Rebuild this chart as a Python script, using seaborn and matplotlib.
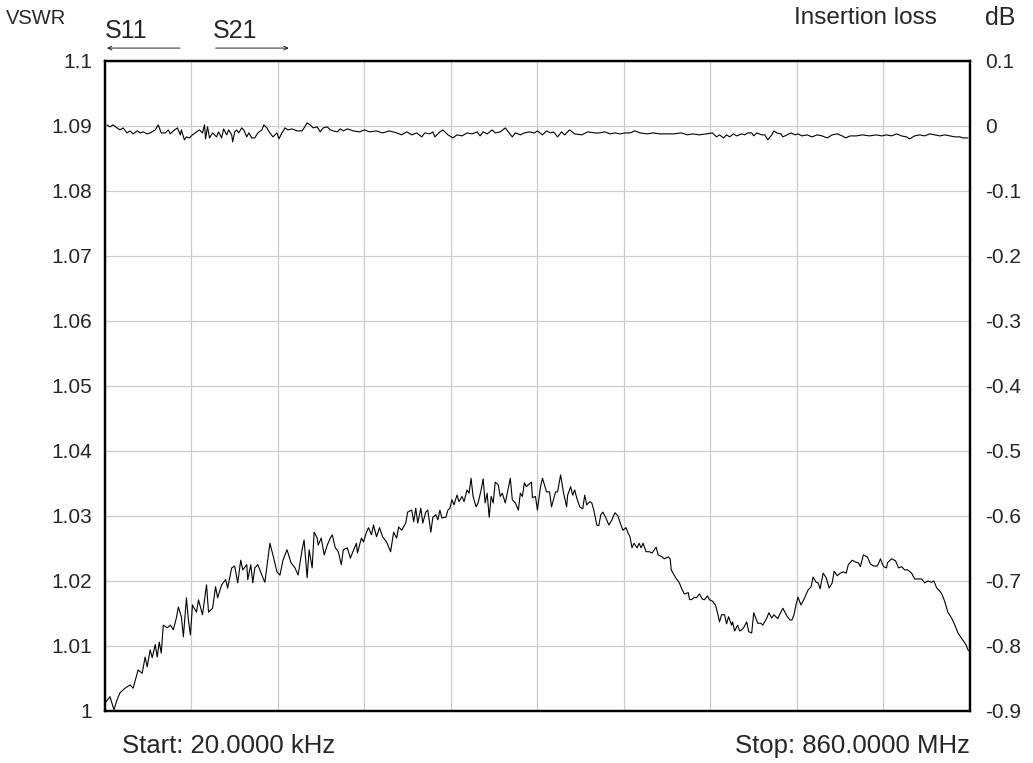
import numpy as np
import pandas as pd
import matplotlib
matplotlib.use("Agg")
import matplotlib.pyplot as plt
import seaborn as sns

# S11 trace (VSWR), frequency in MHz
vswr_freq = [0.02, 5, 9, 12, 15, 20, 25, 28, 33, 37, 40, 42, 45, 47, 50, 52, 54, 56, 58, 62,
             65, 68, 71, 73, 76, 78, 81, 83, 85, 87, 91, 93, 97, 101, 103, 107, 110, 112, 116, 120,
             122, 126, 129, 132, 135, 137, 141, 142, 145, 147, 149, 152, 156, 159, 164, 167, 171, 174, 177, 181,
             185, 189, 192, 196, 198, 201, 203, 206, 208, 211,
             212, 215, 218, 221, 224, 226, 229, 232, 235, 237, 241, 244, 246, 250, 251, 255, 257, 260, 262, 265,
             267, 270, 273, 276, 280, 284, 287, 290, 292, 295, 299, 301, 305, 307, 309, 311, 314, 316, 319, 321,
             324, 326, 329, 331, 333, 335, 339, 341, 343, 345, 347, 350, 352, 355, 357, 360, 362, 364, 366, 369,
             371, 374, 376, 378, 380, 382, 384, 386, 388, 391, 393, 395, 398, 400, 403, 405, 408, 411, 413, 415,
             417, 419, 421, 424, 425, 428, 430,
             433, 435, 439, 442, 444, 448, 450, 453, 456, 459, 460, 463, 465, 467, 469, 472, 475, 477, 479, 482,
             484, 486, 489, 491, 493, 495, 498, 501, 504, 507, 510, 513, 515, 518, 520, 522, 524, 526, 529, 531,
             533, 535, 538, 541, 544, 548, 550, 554, 556, 560, 562, 563, 567, 571, 574, 576, 580, 581, 583, 586,
             588, 591, 594, 596, 599, 601, 604, 607, 609, 611, 613, 616, 618, 620, 623, 624, 626, 629, 631, 633,
             635, 638, 640, 643, 645,
             649, 652, 654, 658, 660, 663, 665, 669, 671, 674, 678, 681, 683, 685, 687, 689, 692, 695, 699, 702,
             704, 707, 709, 711, 714, 717, 720, 723, 725, 728, 731, 734, 737, 739, 743, 746, 749, 751, 754, 758,
             761, 764, 768, 771, 774, 777, 778, 782, 786, 789, 792, 795, 798, 802, 805, 812, 815, 818, 822, 824,
             827, 829, 832, 835, 838, 842, 845, 848, 852, 856, 858, 860]
vswr_vals = [1.0012, 1.0022, 1.0002, 1.0017, 1.0028, 1.0035, 1.0040, 1.0035, 1.0063, 1.0058,
             1.0083, 1.0068, 1.0094, 1.0082, 1.0102, 1.0083, 1.0106, 1.0089, 1.0132, 1.0128,
             1.0132, 1.0125, 1.0143, 1.0160, 1.0145, 1.0114, 1.0174, 1.0140, 1.0117, 1.0163,
             1.0152, 1.0171, 1.0148, 1.0194, 1.0152, 1.0158, 1.0191, 1.0174, 1.0194, 1.0202,
             1.0189, 1.0220, 1.0223, 1.0197, 1.0232, 1.0217, 1.0225, 1.0202, 1.0225, 1.0197,
             1.0220, 1.0225, 1.0209, 1.0198, 1.0258, 1.0240, 1.0214, 1.0209, 1.0232, 1.0248,
             1.0228, 1.0220, 1.0209, 1.0248, 1.0263, 1.0205, 1.0248, 1.0220, 1.0275, 1.0266,
             1.0255, 1.0266, 1.0240, 1.0255, 1.0266, 1.0271, 1.0251, 1.0245, 1.0225, 1.0248,
             1.0251, 1.0235, 1.0243, 1.0258, 1.0243, 1.0266, 1.0260, 1.0275, 1.0282, 1.0271,
             1.0286, 1.0268, 1.0282, 1.0268, 1.0260, 1.0245, 1.0275, 1.0266, 1.0283, 1.0278,
             1.0289, 1.0306, 1.0309, 1.0291, 1.0312, 1.0289, 1.0312, 1.0289, 1.0306, 1.0309,
             1.0275, 1.0298, 1.0302, 1.0294, 1.0309, 1.0297, 1.0298, 1.0309, 1.0312, 1.0325,
             1.0317, 1.0332, 1.0322, 1.0330, 1.0322, 1.0340, 1.0335, 1.0358, 1.0330, 1.0314,
             1.0320, 1.0340, 1.0357, 1.0320, 1.0335, 1.0298, 1.0330, 1.0320, 1.0352, 1.0348,
             1.0330, 1.0335, 1.0320, 1.0335, 1.0358, 1.0325, 1.0320, 1.0309, 1.0335, 1.0330,
             1.0351, 1.0345, 1.0348, 1.0352, 1.0328, 1.0330, 1.0309,
             1.0345, 1.0358, 1.0337, 1.0337, 1.0314, 1.0337, 1.0337, 1.0363, 1.0335, 1.0314,
             1.0332, 1.0345, 1.0332, 1.0340, 1.0328, 1.0314, 1.0311, 1.0332, 1.0317, 1.0322,
             1.0320, 1.0309, 1.0286, 1.0285, 1.0302, 1.0306, 1.0297, 1.0286, 1.0294, 1.0305,
             1.0300, 1.0286, 1.0278, 1.0282, 1.0274, 1.0268, 1.0251, 1.0258, 1.0251, 1.0258,
             1.0251, 1.0258, 1.0245, 1.0245, 1.0243, 1.0252, 1.0240, 1.0237, 1.0234, 1.0237,
             1.0234, 1.0217, 1.0206, 1.0197, 1.0186, 1.0180, 1.0182, 1.0172, 1.0171, 1.0175,
             1.0174, 1.0180, 1.0172, 1.0171, 1.0177, 1.0171, 1.0169, 1.0163, 1.0151, 1.0137,
             1.0148, 1.0148, 1.0134, 1.0145, 1.0132, 1.0137, 1.0123, 1.0132, 1.0123, 1.0125,
             1.0128, 1.0137, 1.0122, 1.0120, 1.0151,
             1.0135, 1.0135, 1.0132, 1.0143, 1.0151, 1.0143, 1.0148, 1.0142, 1.0149, 1.0158,
             1.0146, 1.0140, 1.0140, 1.0148, 1.0163, 1.0175, 1.0163, 1.0172, 1.0186, 1.0191,
             1.0206, 1.0198, 1.0197, 1.0188, 1.0212, 1.0205, 1.0189, 1.0197, 1.0215, 1.0208,
             1.0212, 1.0214, 1.0212, 1.0225, 1.0232, 1.0229, 1.0228, 1.0222, 1.0240, 1.0237,
             1.0226, 1.0223, 1.0223, 1.0234, 1.0222, 1.0220, 1.0228, 1.0234, 1.0231, 1.0220,
             1.0222, 1.0217, 1.0217, 1.0212, 1.0203, 1.0203, 1.0197, 1.0200, 1.0198, 1.0200,
             1.0189, 1.0186, 1.0180, 1.0168, 1.0152, 1.0142, 1.0132, 1.0120, 1.0111, 1.0102,
             1.0094, 1.0091]

# S21 trace (insertion loss, dB)
loss_freq = [2, 5, 8, 12, 15, 18, 22, 25, 28, 32, 35, 38, 42, 45, 50, 53, 56, 60, 63, 65,
             68, 72, 75, 76, 79, 81, 84, 87, 91, 94, 97, 99, 100, 102, 104, 107, 111, 113, 116, 118,
             121, 123, 126, 127, 129, 131, 133, 136, 138, 141, 143, 146, 149, 152, 156, 158, 161, 164, 167, 171,
             173, 176, 179, 182, 186, 191, 196, 198, 201, 204, 207, 211, 214, 217, 221, 224, 227, 231, 234, 237,
             241, 247, 253, 258, 263, 270, 276, 283, 290, 295, 300, 305, 310, 315, 318, 323, 326, 328, 333, 336,
             341, 346, 350, 355, 360, 365, 370, 373, 376, 380, 385, 388, 393, 398, 401, 405, 408, 413, 417, 422,
             427, 430, 435, 439, 443, 446, 450, 454, 457, 462, 467, 474, 480, 487, 492, 497, 502, 507, 512, 517,
             522, 527, 532, 539, 545, 552, 559, 565, 573, 579, 584, 591, 598, 604, 608, 611, 615, 618, 621, 625,
             628, 633, 636, 639, 643, 645, 648, 653, 656, 659, 663, 665, 668, 672, 674, 678, 682, 686, 689, 693,
             698, 703, 708, 713, 718, 723, 728, 733, 736, 741, 747, 753, 760, 767, 772, 777, 782, 787, 792, 797,
             800, 805, 810, 815, 820, 825, 830, 835, 840, 845, 850, 853, 858]
loss_vals = [0.0015, -0.0015, 0.0015, -0.0031, -0.0062, -0.0031, -0.0108, -0.0077, -0.0123, -0.0077,
             -0.0108, -0.0092, -0.0123, -0.0108, -0.0062, 0.0015, -0.0108, -0.0108, -0.0062, -0.0123,
             -0.0077, -0.0031, -0.0138, -0.0062, -0.0215, -0.0169, -0.0185, -0.0138, -0.0092, -0.0062,
             -0.0108, 0.0015, -0.0200, -0.0015, -0.0185, -0.0108, -0.0169, -0.0092, -0.0185, -0.0046,
             -0.0138, -0.0062, -0.0138, -0.0246, -0.0092, -0.0062, -0.0108, -0.0031, -0.0062, -0.0169,
             -0.0108, -0.0185, -0.0185, -0.0108, -0.0062, 0.0015, -0.0031, -0.0108, -0.0169, -0.0108,
             -0.0200, -0.0108, -0.0031, -0.0062, -0.0046, -0.0077, -0.0077, -0.0031, 0.0046, 0.0015,
             -0.0031, -0.0015, -0.0092, -0.0031, -0.0015, -0.0062, -0.0077, -0.0092, -0.0046, -0.0077,
             -0.0046, -0.0077, -0.0092, -0.0062, -0.0092, -0.0077, -0.0108, -0.0077, -0.0108, -0.0138,
             -0.0092, -0.0138, -0.0108, -0.0169, -0.0108, -0.0123, -0.0092, -0.0169, -0.0092, -0.0062,
             -0.0138, -0.0185, -0.0138, -0.0154, -0.0108, -0.0123, -0.0092, -0.0154, -0.0092, -0.0123,
             -0.0062, -0.0108, -0.0092, -0.0031, -0.0092, -0.0169, -0.0108, -0.0138, -0.0108, -0.0092,
             -0.0108, -0.0077, -0.0138, -0.0077, -0.0108, -0.0092, -0.0169, -0.0092, -0.0138, -0.0062,
             -0.0123, -0.0138, -0.0092, -0.0108, -0.0108, -0.0092, -0.0123, -0.0108, -0.0123, -0.0108,
             -0.0108, -0.0077, -0.0108, -0.0123, -0.0108, -0.0123, -0.0123, -0.0123, -0.0108, -0.0138,
             -0.0123, -0.0138, -0.0123, -0.0108, -0.0169, -0.0138, -0.0185, -0.0138, -0.0169, -0.0123,
             -0.0154, -0.0123, -0.0138, -0.0108, -0.0108, -0.0154, -0.0108, -0.0138, -0.0138, -0.0215,
             -0.0138, -0.0077, -0.0108, -0.0123, -0.0169, -0.0138, -0.0108, -0.0138, -0.0123, -0.0154,
             -0.0138, -0.0169, -0.0138, -0.0154, -0.0185, -0.0138, -0.0123, -0.0154, -0.0185, -0.0154,
             -0.0154, -0.0138, -0.0154, -0.0138, -0.0154, -0.0138, -0.0154, -0.0123, -0.0154, -0.0169,
             -0.0200, -0.0154, -0.0138, -0.0154, -0.0123, -0.0138, -0.0154, -0.0138, -0.0154, -0.0169,
             -0.0169, -0.0185, -0.0185]

vswr_ticks = [1, 1.01, 1.02, 1.03, 1.04, 1.05, 1.06, 1.07, 1.08, 1.09, 1.1]
vswr_labels = ["1", "1.01", "1.02", "1.03", "1.04", "1.05", "1.06", "1.07", "1.08", "1.09", "1.1"]
db_ticks = [-0.9, -0.8, -0.7, -0.6, -0.5, -0.4, -0.3, -0.2, -0.1, 0, 0.1]
db_labels = ["-0.9", "-0.8", "-0.7", "-0.6", "-0.5", "-0.4", "-0.3", "-0.2", "-0.1", "0", "0.1"]
f_start, f_stop = 0.02, 860.0

df_s11 = pd.DataFrame({"freq": vswr_freq, "vswr": vswr_vals})
df_s21 = pd.DataFrame({"freq": loss_freq, "loss": loss_vals})

sns.set_style("white")
plt.rcParams["font.family"] = ["Liberation Sans", "DejaVu Sans"]

fig = plt.figure(figsize=(10.33, 7.63), dpi=100)
ax = fig.add_axes([0.1016, 0.0682, 0.8374, 0.8520])
ax2 = ax.twinx()

sns.lineplot(data=df_s11, x="freq", y="vswr", ax=ax, color="black", linewidth=0.8, estimator=None, sort=False)
sns.lineplot(data=df_s21, x="freq", y="loss", ax=ax2, color="black", linewidth=0.8, estimator=None, sort=False)

ax.set_xlim(f_start, f_stop)
ax.set_ylim(1.0, 1.1)
ax2.set_ylim(-0.9, 0.1)

ax.set_xticks(np.linspace(f_start, f_stop, 11))
ax.set_xticklabels([])
ax.set_yticks(vswr_ticks)
ax.set_yticklabels(vswr_labels, fontsize=15)
ax2.set_yticks(db_ticks)
ax2.set_yticklabels(db_labels, fontsize=15)
ax.tick_params(axis="both", length=0, pad=9)
ax2.tick_params(axis="y", length=0, pad=11)

ax.grid(True, color="#cccccc", linewidth=0.9)
ax.set_axisbelow(True)
ax.set_xlabel("")
ax.set_ylabel("")
ax2.set_ylabel("")
for sp in list(ax.spines.values()) + list(ax2.spines.values()):
    sp.set_color("black")
    sp.set_linewidth(1.6)

# header / footer labels
fig.text(0.006, 0.976, "VSWR", fontsize=14.5, va="center", ha="left")
fig.text(0.101, 0.959, "S11", fontsize=18, va="center", ha="left")
fig.text(0.206, 0.959, "S21", fontsize=18, va="center", ha="left")
fig.text(0.907, 0.976, "Insertion loss", fontsize=17.5, va="center", ha="right")
fig.text(0.983, 0.976, "dB", fontsize=18, va="center", ha="right")
fig.text(0.118, 0.022, "Start: 20.0000 kHz", fontsize=18.5, va="center", ha="left")
fig.text(0.939, 0.022, "Stop: 860.0000 MHz", fontsize=18.5, va="center", ha="right")

arrow = dict(arrowstyle="->", color="black", linewidth=0.6, mutation_scale=7)
fig.patches.append(matplotlib.patches.FancyArrowPatch((0.177, 0.937), (0.101, 0.937), transform=fig.transFigure, **arrow))
fig.patches.append(matplotlib.patches.FancyArrowPatch((0.206, 0.937), (0.282, 0.937), transform=fig.transFigure, **arrow))

plt.savefig("out.png", dpi=100)
plt.close()
